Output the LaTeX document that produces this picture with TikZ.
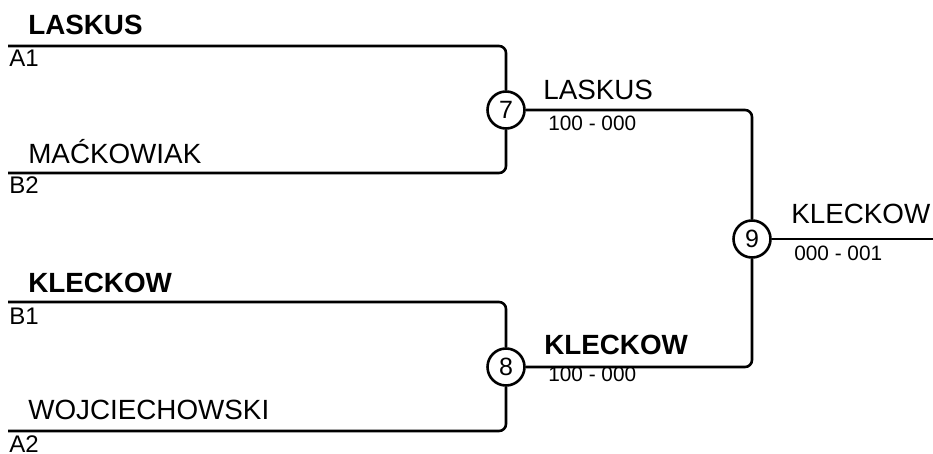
\documentclass[tikz,border=0pt]{standalone}
\usepackage{fontspec}
\setmainfont{Liberation Sans}
\begin{document}
\begin{tikzpicture}[x=1pt,y=-1pt,line width=2.6pt,
    match/.style={circle,draw,minimum size=37pt,inner sep=0pt,font=\fontsize{25}{25}\selectfont},
    player/.style={anchor=base west,inner sep=0pt,font=\fontsize{27.8}{28}\selectfont},
    winner/.style={anchor=base west,inner sep=0pt,font=\fontsize{27.8}{28}\selectfont\bfseries},
    seed/.style={anchor=base west,inner sep=0pt,font=\fontsize{24}{24}\selectfont},
    result/.style={anchor=base west,inner sep=0pt,font=\fontsize{20.8}{21}\selectfont}]
    \useasboundingbox (0,0) rectangle (933,454);

    % matches
    \node[match] (m7) at (506,110) {7};
    \node[match] (m8) at (506,367) {8};
    \node[match] (m9) at (752,239) {9};

    \coordinate (a1) at (8,46);
    \coordinate (b2) at (8,173);
    \coordinate (b1) at (8,302);
    \coordinate (a2) at (8,431);
    \coordinate (champ) at (933,239);

    % bracket lines
    \draw [rounded corners=7pt] (a1) -| (m7.north);
    \draw [rounded corners=7pt] (b2) -| (m7.south);
    \draw [rounded corners=7pt] (b1) -| (m8.north);
    \draw [rounded corners=7pt] (a2) -| (m8.south);
    \draw [rounded corners=7pt] (m7.east) -| (m9.north);
    \draw [rounded corners=7pt] (m8.east) -| (m9.south);
    \draw (m9.east) -- (champ);

    % first round
    \node[winner] at (27,35) {LASKUS};
    \node[seed] at (8,67) {A1};
    \node[player] at (27,164) {MAĆKOWIAK};
    \node[seed] at (8,194) {B2};
    \node[winner] at (27,292) {KLECKOW};
    \node[seed] at (8,324) {B1};
    \node[player] at (27,419) {WOJCIECHOWSKI};
    \node[seed] at (8,452) {A2};

    % later rounds
    \node[player] at (542,100) {LASKUS};
    \node[result] at (547,131) {100 - 000};
    \node[winner] at (543,354) {KLECKOW};
    \node[result] at (547,381) {100 - 000};
    \node[player] at (790,224) {KLECKOW};
    \node[result] at (793,260) {000 - 001};
\end{tikzpicture}
\end{document}
